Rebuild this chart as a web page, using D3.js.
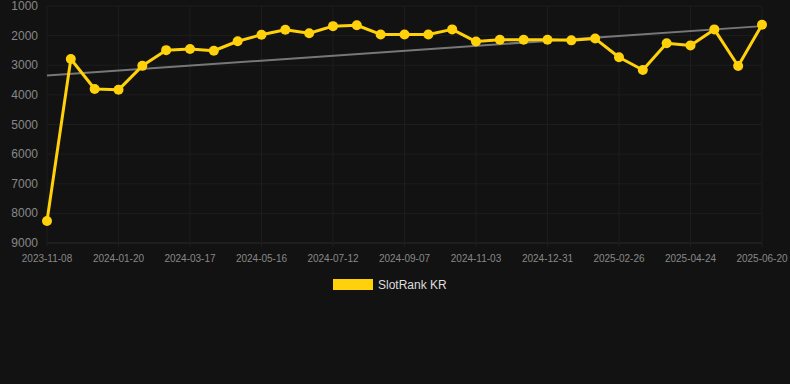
<!DOCTYPE html>
<html>
<head>
<meta charset="utf-8">
<script src="https://cdn.jsdelivr.net/npm/d3@7"></script>
<style>
  body { margin: 0; background: #121212; }
  svg { display: block; font-family: "Liberation Sans", Arial, sans-serif; }
</style>
</head>
<body>
<svg id="chart"></svg>
<script>
var width = 790;
var height = 384;

// data
var dates = ["2023-11-08","2023-12-02","2023-12-26","2024-01-20","2024-02-08","2024-02-27","2024-03-17",
  "2024-04-06","2024-04-26","2024-05-16","2024-06-04","2024-06-23","2024-07-12","2024-08-01","2024-08-19",
  "2024-09-07","2024-09-26","2024-10-15","2024-11-03","2024-11-22","2024-12-11","2024-12-31","2025-01-18",
  "2025-02-06","2025-02-26","2025-03-16","2025-04-05","2025-04-24","2025-05-13","2025-06-01","2025-06-20"];
var ranks = [8260, 2790, 3800, 3830, 3020, 2490, 2450, 2510, 2190, 1970, 1800, 1920, 1680, 1650, 1960,
  1960, 1960, 1790, 2200, 2140, 2140, 2140, 2160, 2100, 2730, 3160, 2260, 2330, 1790, 3025, 1630];
var yTicks = [1000, 2000, 3000, 4000, 5000, 6000, 7000, 8000, 9000];
var seriesName = "SlotRank KR";

var margin = {left: 47, right: 28, top: 6, bottom: 141};

var svg = d3.select("#chart").attr("width", width).attr("height", height);

var x = d3.scalePoint()
  .domain(d3.range(dates.length))
  .range([margin.left, width - margin.right]);

var y = d3.scaleLinear()
  .domain([1000, 9000])
  .range([margin.top, height - margin.bottom]);

// grid
var grid = svg.append("g");
grid.selectAll(".hgrid")
  .data(yTicks)
  .enter()
  .append("line")
  .attr("x1", margin.left)
  .attr("x2", width - margin.right)
  .attr("y1", function (d) { return y(d); })
  .attr("y2", function (d) { return y(d); })
  .attr("stroke", function (d) { return d == 9000 ? "#2a2a2a" : "#1d1d1d"; })
  .attr("stroke-width", 1);

var labelIdx = d3.range(0, dates.length, 3);
grid.selectAll(".vgrid")
  .data(labelIdx)
  .enter()
  .append("line")
  .attr("x1", function (d) { return x(d); })
  .attr("x2", function (d) { return x(d); })
  .attr("y1", margin.top)
  .attr("y2", y(9000) + 4)
  .attr("stroke", "#1d1d1d")
  .attr("stroke-width", 1);

// y axis labels
svg.append("g")
  .selectAll("text")
  .data(yTicks)
  .enter()
  .append("text")
  .attr("x", 38)
  .attr("y", function (d) { return y(d) + 4; })
  .attr("text-anchor", "end")
  .style("font-size", "12px")
  .style("fill", "#888")
  .text(function (d) { return d; });

// x axis labels
svg.append("g")
  .selectAll("text")
  .data(labelIdx)
  .enter()
  .append("text")
  .attr("x", function (d) { return x(d); })
  .attr("y", 262)
  .attr("text-anchor", "middle")
  .style("font-size", "10px")
  .style("fill", "#888")
  .text(function (d) { return dates[d]; });

// trend line (least squares over index)
var n = ranks.length;
var mx = d3.mean(d3.range(n));
var my = d3.mean(ranks);
var slope = d3.sum(ranks, function (v, i) { return (i - mx) * (v - my); }) /
  d3.sum(d3.range(n), function (i) { return (i - mx) * (i - mx); });
var icpt = my - slope * mx;
svg.append("line")
  .attr("x1", x(0))
  .attr("y1", y(icpt))
  .attr("x2", x(n - 1))
  .attr("y2", y(icpt + slope * (n - 1)))
  .attr("stroke", "#777")
  .attr("stroke-width", 2);

// series line
var line = d3.line()
  .x(function (d, i) { return x(i); })
  .y(function (d) { return y(d); });

svg.append("path")
  .datum(ranks)
  .attr("d", line)
  .attr("fill", "none")
  .attr("stroke", "#FFD10A")
  .attr("stroke-width", 3)
  .attr("stroke-linejoin", "round");

svg.append("g")
  .selectAll("circle")
  .data(ranks)
  .enter()
  .append("circle")
  .attr("cx", function (d, i) { return x(i); })
  .attr("cy", function (d) { return y(d); })
  .attr("r", 5)
  .attr("fill", "#FFD10A");

// legend
var legend = svg.append("g");
legend.append("rect")
  .attr("x", 333)
  .attr("y", 279)
  .attr("width", 40)
  .attr("height", 11)
  .attr("fill", "#FFD10A");
legend.append("text")
  .attr("x", 378)
  .attr("y", 289)
  .style("font-size", "12px")
  .style("fill", "#ddd")
  .text(seriesName);
</script>
</body>
</html>
